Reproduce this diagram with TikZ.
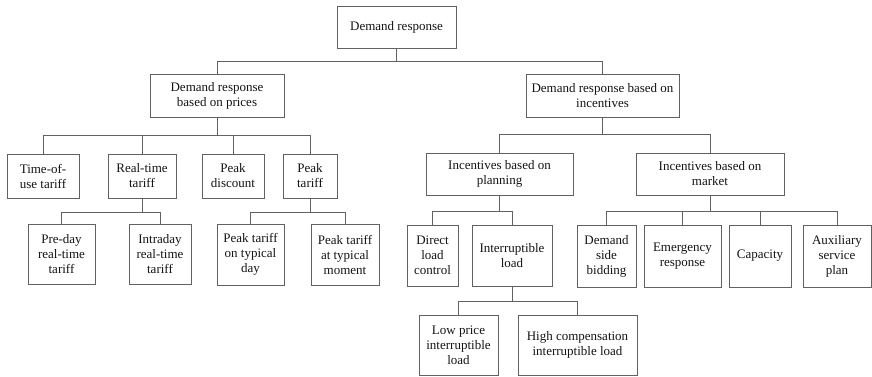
\documentclass[tikz,border=0pt]{standalone}
\usepackage{fontspec}
\setmainfont{Liberation Serif}
\begin{document}
\begin{tikzpicture}[x=1pt,y=-1pt,
  box/.style={draw=black!62, line width=0.9pt, fill=white, inner sep=0pt,
    align=center, text=black!92, font=\fontsize{13}{15}\selectfont},
  link/.style={draw=black!62, line width=0.9pt}]
\useasboundingbox (0,0) rectangle (872,377);

% level 0
\node[box, minimum width=119, minimum height=42] (root) at (396.5,27) {Demand response};
% level 1
\node[box, minimum width=134, minimum height=43] (prices) at (217,95.5) {Demand response\\based on prices};
\node[box, minimum width=153, minimum height=43] (incent) at (602.5,95.5) {Demand response based on\\incentives};
% price-based branch
\node[box, minimum width=72, minimum height=44] (tou) at (43,176) {Time-of-\\use tariff};
\node[box, minimum width=68, minimum height=44] (rt) at (142,176) {Real-time\\tariff};
\node[box, minimum width=62, minimum height=44] (pd) at (233,176) {Peak\\discount};
\node[box, minimum width=54, minimum height=44] (pt) at (310,176) {Peak\\tariff};
\node[box, minimum width=67, minimum height=60] (preday) at (61.5,254) {Pre-day\\real-time\\tariff};
\node[box, minimum width=62, minimum height=60] (intra) at (160,254) {Intraday\\real-time\\tariff};
\node[box, minimum width=67, minimum height=61] (ptday) at (250.5,254.5) {Peak tariff\\on typical\\day};
\node[box, minimum width=68, minimum height=61] (ptmom) at (345,254.5) {Peak tariff\\at typical\\moment};
% incentive-based branch
\node[box, minimum width=147, minimum height=42] (plan) at (499.5,174) {Incentives based on\\planning};
\node[box, minimum width=148, minimum height=42] (market) at (710,174) {Incentives based on\\market};
\node[box, minimum width=51, minimum height=61] (direct) at (432.5,255.5) {Direct\\load\\control};
\node[box, minimum width=80, minimum height=61] (interr) at (512,255.5) {Interruptible\\load};
\node[box, minimum width=79, minimum height=60] (low) at (458.5,345) {Low price\\interruptible\\load};
\node[box, minimum width=119, minimum height=60] (high) at (577.5,345) {High compensation\\interruptible load};
\node[box, minimum width=59, minimum height=62] (dsb) at (606.5,256) {Demand\\side\\bidding};
\node[box, minimum width=77, minimum height=62] (emer) at (682.5,256) {Emergency\\response};
\node[box, minimum width=62, minimum height=62] (cap) at (760,256) {Capacity};
\node[box, minimum width=68, minimum height=62] (aux) at (837,256) {Auxiliary\\service\\plan};

% connectors: drop from parent, run along a bus, drop to child
\foreach \c in {prices,incent} \draw[link] (root.south) -- ++(0,13) -| (\c.north);
\foreach \c in {tou,rt,pd,pt} \draw[link] (prices.south) -- ++(0,18) -| (\c.north);
\foreach \c in {preday,intra} \draw[link] (rt.south) -- ++(0,14) -| (\c.north);
\foreach \c in {ptday,ptmom} \draw[link] (pt.south) -- ++(0,14) -| (\c.north);
\foreach \c in {plan,market} \draw[link] (incent.south) -- ++(0,17) -| (\c.north);
\foreach \c in {direct,interr} \draw[link] (plan.south) -- ++(0,16) -| (\c.north);
\foreach \c in {dsb,emer,cap,aux} \draw[link] (market.south) -- ++(0,16) -| (\c.north);
\foreach \c in {low,high} \draw[link] (interr.south) -- ++(0,15) -| (\c.north);
\end{tikzpicture}
\end{document}
